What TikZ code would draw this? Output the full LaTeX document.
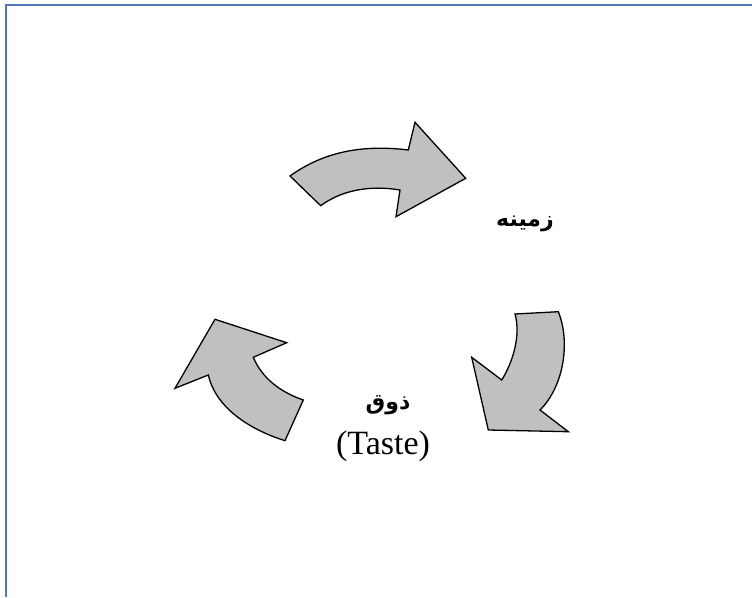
\documentclass[tikz,border=0pt]{standalone}
\usepackage{fontspec}
\setmainfont{Liberation Serif}
\newfontfamily\arabicfont[Script=Arabic]{DejaVu Sans}
\TeXXeTstate=1
\definecolor{framecol}{RGB}{79,120,180}
\definecolor{arrowfill}{RGB}{192,192,192}
\tikzset{
  cyclearrow/.style={draw=black, fill=arrowfill, line width=1.3pt, line join=miter},
  persian/.style={font=\arabicfont\bfseries\fontsize{22}{26}\selectfont, inner sep=0pt},
  latin/.style={font=\fontsize{34}{40}\selectfont, inner sep=0pt}
}
\begin{document}
\begin{tikzpicture}[x=1pt,y=-1pt]
\useasboundingbox (0,0) rectangle (752,597);
\fill[white] (0,0) rectangle (752,597);
% frame
\draw[framecol, line width=2.4pt] (6,597) -- (6,5) -- (752,5);
% top arrow
\draw[cyclearrow] (290,176) .. controls (322,153) and (360,144) .. (408.3,150)
  -- (415,122.3) -- (465.7,178.3) -- (396,216.7) -- (400,190)
  .. controls (370,185) and (342,190) .. (320.7,205.7) -- cycle;
% right arrow
\draw[cyclearrow] (515,314) -- (558.3,311.7) .. controls (570,340) and (565,385) .. (540,410)
  -- (568.3,431.7) -- (488.3,430) -- (471.7,357.3) -- (501.7,380)
  .. controls (513,362) and (521,335) .. (515,314) -- cycle;
% left arrow
\draw[cyclearrow] (215,319.3) -- (286.7,342.7) -- (253.3,357.3)
  .. controls (262,378) and (280,392) .. (303.3,400) -- (285,440.7)
  .. controls (245,428) and (215,405) .. (208.3,375) -- (175,388.3) -- cycle;
% labels
\node[persian] (zamine) at (525,224) {\beginR زمینه\endR};
\node[persian] (zoq) at (388,405) {\beginR ذوق\endR};
\node[latin] (taste) at (383,446) {(Taste)};
\end{tikzpicture}
\end{document}
